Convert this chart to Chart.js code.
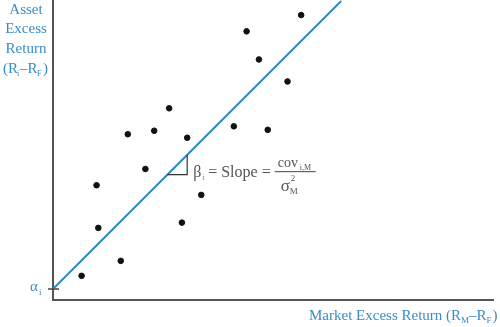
<!DOCTYPE html>
<html>
<head>
<meta charset="utf-8">
<script src="https://cdn.jsdelivr.net/npm/chart.js@4/dist/chart.umd.min.js"></script>
<style>
  html, body { margin: 0; padding: 0; background: #fff; }
  #wrap { width: 500px; height: 327px; position: relative; }
</style>
</head>
<body>
<div id="wrap"><canvas id="capm"></canvas></div>
<script>
// market excess return (x) and asset excess return (y) observations
var marketX = [6.5, 9.9, 10.3, 15.4, 17.0, 21.0, 23.0, 26.4, 29.3, 30.5, 33.7, 41.1, 44.0, 46.8, 48.8, 53.3, 56.4];
var assetY  = [5.5, 26.1, 16.4, 8.9, 37.7, 29.8, 38.5, 43.6, 17.6, 36.9, 23.9, 39.5, 61.1, 54.7, 38.7, 49.7, 64.8];
// characteristic line: intercept alpha, slope beta
var lineX = [0, 65.5];
var alpha = 2.5;
var beta = 1.0;

var blue = '#3a8cc6';
var serif = '"Liberation Serif", "DejaVu Serif", serif';

var points = marketX.map(function(x, i) { return { x: x, y: assetY[i] }; });
var linePts = lineX.map(function(x) { return { x: x, y: alpha + beta * x }; });

var labels = {
  id: 'labels',
  afterDraw: function(chart) {
    var c = chart.ctx, xs = chart.scales.x, ys = chart.scales.y;
    c.save();
    c.textBaseline = 'alphabetic';

    // alpha tick on the y axis
    var ay = ys.getPixelForValue(alpha);
    c.strokeStyle = '#444';
    c.lineWidth = 1.5;
    c.beginPath();
    c.moveTo(xs.left - 5, ay);
    c.lineTo(xs.left + 6, ay);
    c.stroke();
    c.fillStyle = blue;
    c.font = '15px ' + serif;
    c.fillText('\u03B1', 30, ay + 2);
    c.font = '9px ' + serif;
    c.fillText('i', 39, ay + 6);

    // y axis title
    c.textAlign = 'center';
    c.font = '15px ' + serif;
    c.fillText('Asset', 26, 14);
    c.fillText('Excess', 26, 33);
    c.fillText('Return', 26, 53);
    c.textAlign = 'left';
    c.fillText('(R', 3, 73);
    c.font = '8px ' + serif;
    c.fillText('i', 17, 76);
    c.font = '15px ' + serif;
    c.fillText('\u2013R', 20, 73);
    c.font = '8px ' + serif;
    c.fillText('F', 37, 76);
    c.font = '15px ' + serif;
    c.fillText(')', 43, 73);

    // x axis title
    c.font = '15px ' + serif;
    var tx = 309, ty = 320;
    var s1 = 'Market Excess Return (R';
    c.fillText(s1, tx, ty);
    tx += c.measureText(s1).width;
    c.font = '9px ' + serif;
    c.fillText('M', tx, ty + 3);
    tx += c.measureText('M').width;
    c.font = '15px ' + serif;
    c.fillText('\u2013R', tx, ty);
    tx += c.measureText('\u2013R').width;
    c.font = '9px ' + serif;
    c.fillText('F', tx, ty + 3);
    tx += c.measureText('F').width + 1;
    c.font = '15px ' + serif;
    c.fillText(')', tx, ty);

    // slope triangle
    var x1 = 26.0, x2 = 30.5;
    var px1 = xs.getPixelForValue(x1), px2 = xs.getPixelForValue(x2);
    var py1 = ys.getPixelForValue(alpha + beta * x1), py2 = ys.getPixelForValue(alpha + beta * x2);
    c.strokeStyle = '#333';
    c.lineWidth = 1.2;
    c.beginPath();
    c.moveTo(px1, py1);
    c.lineTo(px2, py1);
    c.lineTo(px2, py2);
    c.stroke();

    // formula
    var fx = px2 + 6, fy = py1 + 2;
    c.fillStyle = '#555';
    c.font = '16px ' + serif;
    c.fillText('\u03B2', fx, fy);
    c.font = '8px ' + serif;
    c.fillStyle = blue;
    c.fillText('i', fx + 9, fy + 3);
    c.fillStyle = '#555';
    c.font = '16px ' + serif;
    c.fillText('= Slope =', fx + 15, fy);
    var bx = fx + 15 + c.measureText('= Slope =').width + 4;
    c.lineWidth = 1;
    c.strokeStyle = '#444';
    c.beginPath();
    c.moveTo(bx, fy - 5);
    c.lineTo(bx + 41, fy - 5);
    c.stroke();
    c.font = '14px ' + serif;
    c.fillText('cov', bx + 3, fy - 10);
    c.font = '8px ' + serif;
    c.fillText('i,M', bx + 25, fy - 7);
    c.font = '17px ' + serif;
    c.fillText('\u03C3', bx + 6, fy + 14);
    c.font = '9px ' + serif;
    c.fillText('2', bx + 16, fy + 4);
    c.fillText('M', bx + 15, fy + 17);
    c.restore();
  }
};

new Chart(document.getElementById('capm').getContext('2d'), {
  type: 'scatter',
  data: {
    datasets: [{
      type: 'line',
      data: linePts,
      borderColor: '#2b8ac4',
      borderWidth: 2,
      pointRadius: 0,
      fill: false,
      clip: false
    }, {
      data: points,
      backgroundColor: '#111',
      borderColor: '#111',
      pointRadius: 2.8
    }]
  },
  options: {
    responsive: true,
    maintainAspectRatio: false,
    animation: false,
    layout: { autoPadding: false, padding: { left: 53, right: 7, top: 1, bottom: 27 } },
    plugins: {
      legend: { display: false },
      tooltip: { enabled: false }
    },
    scales: {
      x: {
        type: 'linear',
        min: 0,
        max: 100,
        ticks: { display: false },
        grid: { display: false, drawTicks: false },
        border: { display: true, color: '#555', width: 2 }
      },
      y: {
        type: 'linear',
        min: 0,
        max: 68,
        ticks: { display: false },
        grid: { display: false, drawTicks: false },
        border: { display: true, color: '#555', width: 2 }
      }
    }
  },
  plugins: [labels]
});
</script>
</body>
</html>
